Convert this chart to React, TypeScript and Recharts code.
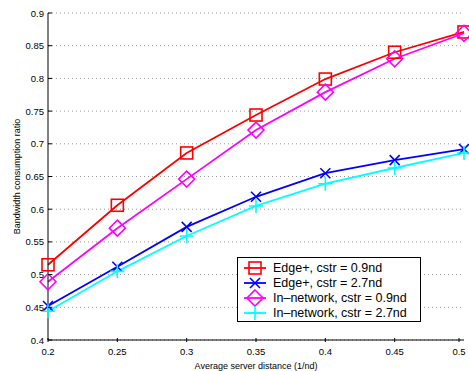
import { LineChart, Line, XAxis, YAxis, CartesianGrid } from "recharts";

const distances = [0.2, 0.25, 0.3, 0.35, 0.4, 0.45, 0.5];
const edgeLow = [0.515, 0.606, 0.686, 0.744, 0.799, 0.84, 0.871];
const edgeHigh = [0.452, 0.512, 0.573, 0.619, 0.655, 0.675, 0.692];
const innetLow = [0.489, 0.571, 0.646, 0.721, 0.779, 0.83, 0.869];
const innetHigh = [0.444, 0.505, 0.559, 0.605, 0.639, 0.663, 0.686];
const yTicks = [0.4, 0.45, 0.5, 0.55, 0.6, 0.65, 0.7, 0.75, 0.8, 0.85, 0.9];

const rows = distances.map((d, i) => ({
  d,
  edgeLow: edgeLow[i],
  edgeHigh: edgeHigh[i],
  innetLow: innetLow[i],
  innetHigh: innetHigh[i],
}));

type Mark = "square" | "x" | "diamond" | "plus";

const series: { key: string; name: string; color: string; mark: Mark }[] = [
  { key: "edgeLow", name: "Edge+, cstr = 0.9nd", color: "#ff0000", mark: "square" },
  { key: "edgeHigh", name: "Edge+, cstr = 2.7nd", color: "#0000ff", mark: "x" },
  { key: "innetLow", name: "In\u2013network, cstr = 0.9nd", color: "#ff00ff", mark: "diamond" },
  { key: "innetHigh", name: "In\u2013network, cstr = 2.7nd", color: "#00ffff", mark: "plus" },
];

const font = "'Liberation Sans', Arial, sans-serif";

function marker(mark: Mark, cx: number, cy: number, color: string) {
  const sw = 1.6;
  if (mark === "square") {
    return <rect x={cx - 6} y={cy - 6} width={12} height={12} fill="none" stroke={color} strokeWidth={sw} />;
  }
  if (mark === "diamond") {
    return <path d={`M${cx},${cy - 8} L${cx + 8},${cy} L${cx},${cy + 8} L${cx - 8},${cy} Z`} fill="none" stroke={color} strokeWidth={sw} />;
  }
  if (mark === "x") {
    return <path d={`M${cx - 5},${cy - 5} L${cx + 5},${cy + 5} M${cx - 5},${cy + 5} L${cx + 5},${cy - 5}`} stroke={color} strokeWidth={sw} />;
  }
  return <path d={`M${cx - 7},${cy} L${cx + 7},${cy} M${cx},${cy - 7} L${cx},${cy + 7}`} stroke={color} strokeWidth={sw} />;
}

const makeDot = (mark: Mark, color: string) => (p: any) => {
  if (p.cx == null || p.cy == null) return <g key={p.index} />;
  return <g key={p.index}>{marker(mark, p.cx, p.cy, color)}</g>;
};

const YTick = (p: any) => (
  <g>
    <line x1={p.x + 4} x2={p.x + 8} y1={p.y} y2={p.y} stroke="#000" strokeWidth={1} />
    <text x={p.x} y={p.y} textAnchor="end" dominantBaseline="central" fontSize={9.5} fontFamily={font} fill="#000">
      {p.payload.value}
    </text>
  </g>
);

const XTick = (p: any) => (
  <g>
    <line x1={p.x} x2={p.x} y1={p.y} y2={p.y - 4} stroke="#000" strokeWidth={1} />
    <text x={p.x} y={p.y + 9} textAnchor="middle" dominantBaseline="central" fontSize={9.5} fontFamily={font} fill="#000">
      {p.payload.value}
    </text>
  </g>
);

const LegendBox = () => (
  <svg width={184} height={65} style={{ display: "block" }}>
    <rect x={0.5} y={0.5} width={183} height={64} fill="#fff" stroke="#000" strokeWidth={1} />
    {series.map((s, i) => {
      const y = 11 + i * 15;
      return (
        <g key={s.key}>
          <line x1={7} x2={29} y1={y} y2={y} stroke={s.color} strokeWidth={1.8} />
          {marker(s.mark, 18, y, s.color)}
          <text x={36} y={y} dominantBaseline="central" fontSize={12.5} fontFamily={font} fill="#000">
            {s.name}
          </text>
        </g>
      );
    })}
  </svg>
);

export default function App() {
  return (
    <div style={{ position: "fixed", left: 0, top: 0, width: 469, height: 371, background: "#fff" }}>
      <LineChart width={469} height={371} data={rows} margin={{ top: 13, right: 5, left: 0, bottom: 0 }}>
        <CartesianGrid vertical={false} stroke="#999" strokeDasharray="1 3" />
        <XAxis
          dataKey="d"
          type="number"
          domain={[0.2, 0.5]}
          ticks={distances}
          height={31}
          tickSize={0}
          tickLine={false}
          tick={<XTick />}
          stroke="#000"
          label={{ value: "Average server distance (1/nd)", position: "insideBottom", offset: 0, fontSize: 9, fontFamily: font, fill: "#000", dy: -2 }}
        />
        <YAxis
          type="number"
          domain={[0.4, 0.9]}
          ticks={yTicks}
          width={48}
          tickSize={0}
          tickMargin={4}
          tickLine={false}
          tick={<YTick />}
          stroke="#000"
          label={{ value: "Bandwidth consumption ratio", angle: -90, position: "insideLeft", offset: 17, fontSize: 9, fontFamily: font, fill: "#000", style: { textAnchor: "middle" } }}
        />
        {series.map((s) => (
          <Line
            key={s.key}
            dataKey={s.key}
            name={s.name}
            stroke={s.color}
            strokeWidth={1.8}
            dot={makeDot(s.mark, s.color)}
            activeDot={false}
            isAnimationActive={false}
          />
        ))}
      </LineChart>
      <div style={{ position: "absolute", left: 237, top: 257 }}>
        <LegendBox />
      </div>
    </div>
  );
}
